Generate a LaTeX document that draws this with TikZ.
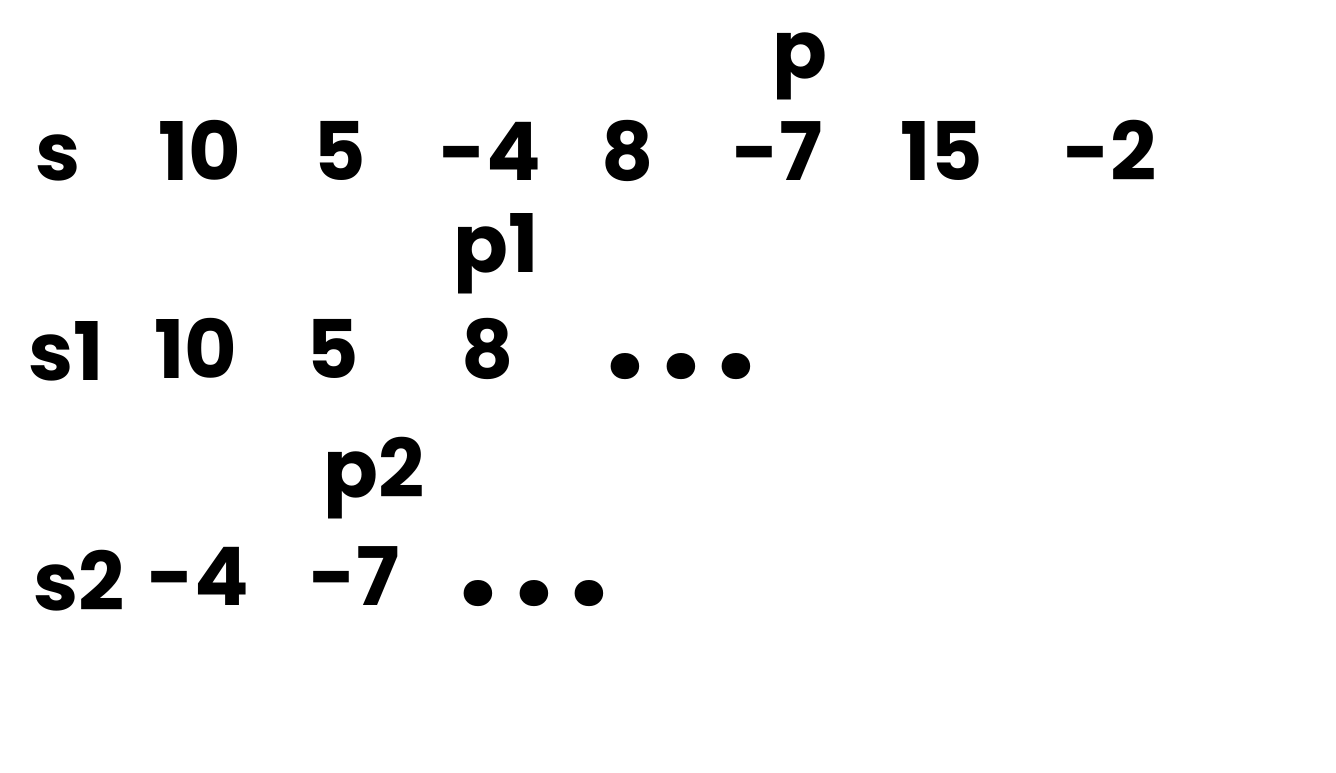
\documentclass[tikz,border=0pt]{standalone}
\usepackage{fontspec}
\setmainfont{Poppins}
\begin{document}
\begin{tikzpicture}[x=0.02cm,y=-0.02cm,
    val/.style={font=\fontsize{46}{50}\selectfont\bfseries,inner sep=0pt,anchor=base},
    more/.style={font=\fontsize{80}{80}\selectfont\bfseries,inner sep=0pt,anchor=base}]
    \useasboundingbox (0,0) rectangle (1336,772);
    % row of s
    \node [val] (s) at (58,180) {s};
    \foreach \v/\x [count=\i] in {10/200,5/340,-4/490,8/628,-7/778,15/942,-2/1110}{% values of s
        \node [val] (a\i) at (\x,180) {\v};
    }
    \node [val] (p) at (800,78) {p};
    % row of s1
    \node [val] (s1) at (66,380) {s1};
    \foreach \v/\x [count=\i] in {10/196,5/333,8/488}{% values of s1
        \node [val] (b\i) at (\x,378) {\v};
    }
    \node [more] (b4) at (681,378) {.\hspace{9pt}.\hspace{9pt}.};
    \node [val] (p1) at (496,272) {p1};
    % row of s2
    \node [val] (s2) at (79,610) {s2};
    \foreach \v/\x [count=\i] in {-4/198,-7/355}{% values of s2
        \node [val] (c\i) at (\x,605) {\v};
    }
    \node [more] (c3) at (534,605) {.\hspace{9pt}.\hspace{9pt}.};
    \node [val] (p2) at (374,497) {p2};
\end{tikzpicture}
\end{document}
